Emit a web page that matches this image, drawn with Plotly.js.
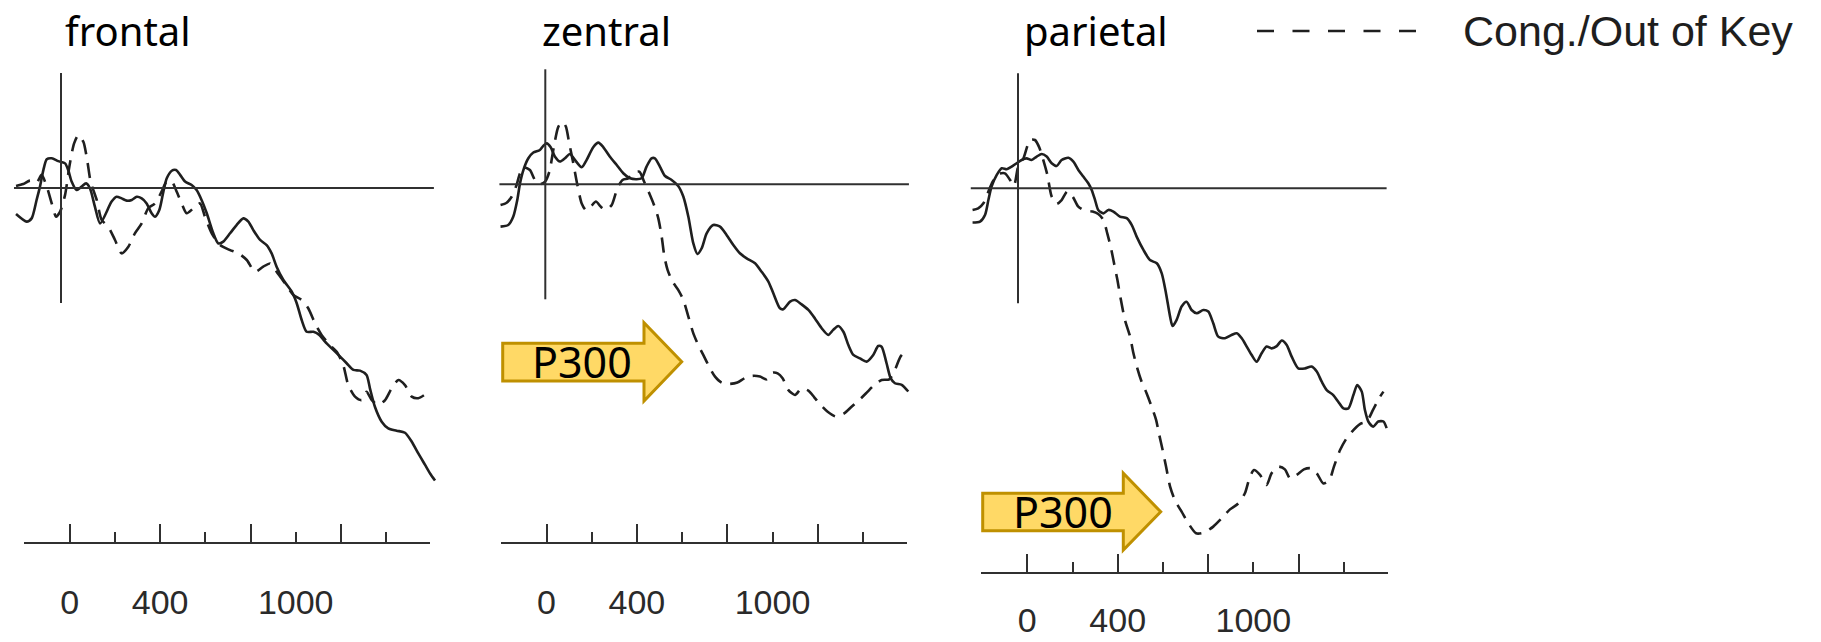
<!DOCTYPE html>
<html>
<head>
<meta charset="utf-8">
<script src="https://cdn.plot.ly/plotly-3.0.1.min.js"></script>
<style>html,body{margin:0;padding:0;background:#fff;}#chart{width:1821px;height:642px;}</style>
</head>
<body>
<div id="chart"></div>
<script>
// ---------------- DATA (time in ms, amplitude in µV, positive plotted downward) ----------------
const panelNames = ['frontal', 'zentral', 'parietal'];
const legendLabel = 'Cong./Out of Key';
const arrowLabel = 'P300';

const tickMajor = [0, 400, 800, 1200];
const tickMinor = [200, 600, 1000, 1400];
const tickLabelVals = [0, 400, 1000];
const tickLabelText = ['0', '400', '1000'];

// frontal
const frontalSolidT = [-199,-152,-130,-108,-93,-78,-63,-41,-12,18,32,47,69,91,111,128,150,173,224,246,268,291,313,335,357,379,401,416,435,453,468,490,509,527,549,578,600,622,645,674,696,718,748,777,807,829,851,881,910,932,954,984,1021,1043,1065,1087,1117,1143,1168,1205,1235,1264,1294,1323,1352,1367,1389,1419,1448,1485,1522,1552,1581,1611,1633,1655];
const frontalSolidV = [1.13,1.46,1.32,0.52,-0.06,-0.78,-1.25,-1.29,-1.17,-1.07,-0.78,-0.28,0.09,-0.06,-0.20,0.01,0.81,1.54,0.59,0.38,0.45,0.55,0.52,0.38,0.45,0.67,1.10,1.25,0.96,0.16,-0.42,-0.75,-0.78,-0.57,-0.28,-0.13,0.09,0.52,1.10,1.97,2.41,2.33,1.97,1.61,1.32,1.46,1.83,2.26,2.48,2.84,3.42,4.00,4.51,5.01,5.74,6.25,6.25,6.39,6.68,7.04,7.33,7.62,7.91,7.94,8.13,8.71,9.51,10.16,10.45,10.55,10.64,11.03,11.54,12.04,12.41,12.72];
const frontalDashT = [-199,-167,-137,-108,-86,-63,-41,-22,-4,18,37,58,77,99,117,131,158,180,209,239,268,298,327,357,386,416,445,468,490,512,534,556,586,615,637,667,704,748,785,822,858,895,925,954,991,1028,1065,1094,1124,1153,1190,1220,1249,1271,1301,1330,1352,1375,1404,1434,1463,1493,1522,1552,1581,1618];
const frontalDashV = [-0.09,-0.17,-0.32,-0.23,-0.57,-0.06,0.67,1.25,1.03,0.30,-0.93,-1.94,-2.30,-2.01,-1.14,-0.28,0.52,1.39,1.68,2.26,2.84,2.55,1.97,1.54,0.88,0.67,0.16,-0.28,-0.28,0.16,0.67,1.10,0.88,0.67,1.25,1.97,2.48,2.70,2.84,3.13,3.64,3.42,3.28,3.64,4.14,4.65,4.87,5.23,5.88,6.39,6.83,7.12,7.70,8.57,9.07,9.22,8.86,9.22,9.43,9.22,8.71,8.35,8.57,9.07,9.14,8.93];

// zentral
const zentralSolidT = [-198,-164,-142,-124,-112,-97,-75,-53,-24,-9,6,24,43,65,87,109,131,161,183,212,235,257,286,316,345,375,404,426,448,470,485,507,530,559,588,611,633,655,673,692,714,743,773,802,832,861,891,928,957,987,1009,1038,1053,1083,1105,1134,1164,1193,1223,1252,1274,1296,1319,1341,1363,1392,1422,1451,1473,1488,1510,1528,1547,1577,1606];
const zentralSolidV = [1.84,1.77,1.41,0.68,-0.04,-0.62,-1.13,-1.38,-1.49,-1.67,-1.78,-1.61,-1.20,-0.99,-1.13,-1.32,-1.06,-0.74,-1.06,-1.61,-1.81,-1.61,-1.20,-0.84,-0.48,-0.26,-0.22,-0.26,-0.77,-1.13,-1.13,-0.77,-0.36,-0.19,0.07,0.54,1.41,2.57,3.03,2.78,2.13,1.77,1.84,2.20,2.64,3.00,3.22,3.43,3.80,4.23,4.74,5.39,5.43,5.10,5.03,5.22,5.46,5.83,6.26,6.55,6.33,6.16,6.41,6.99,7.42,7.57,7.71,7.42,7.03,7.06,7.78,8.43,8.65,8.72,9.01];
const zentralDashT = [-198,-171,-149,-127,-112,-94,-68,-46,-24,-1,18,38,58,77,91,106,124,142,161,180,201,224,245,268,294,319,342,367,392,416,437,460,481,500,515,527,541,563,588,611,633,655,677,699,729,751,780,814,850,883,917,950,979,1006,1028,1050,1075,1105,1134,1164,1190,1218,1248,1286,1322,1355,1392,1422,1451,1488,1522,1547,1572,1606];
const zentralDashV = [0.90,0.80,0.54,0.03,-0.48,-0.74,-0.62,-0.19,-0.01,-0.12,-0.55,-1.64,-2.51,-2.72,-2.51,-1.78,-0.91,0.03,0.83,1.12,0.97,0.75,0.97,1.12,0.90,0.17,-0.19,-0.26,-0.51,-0.55,-0.12,0.39,0.90,1.48,2.28,3.14,3.72,4.23,4.59,5.03,5.75,6.48,6.99,7.42,8.00,8.36,8.62,8.68,8.62,8.43,8.33,8.36,8.48,8.19,8.22,8.43,8.94,9.16,8.87,8.97,9.26,9.59,9.88,10.10,9.96,9.67,9.35,9.06,8.77,8.51,8.48,8.07,7.49,7.13];

// parietal
const parietalSolidT = [-201,-168,-146,-131,-117,-94,-72,-50,-28,-6,16,38,60,83,105,127,149,171,193,223,245,267,289,311,326,341,355,378,400,422,451,481,503,525,555,584,614,636,655,673,684,702,724,746,768,791,820,842,864,886,916,945,968,990,1012,1034,1056,1078,1100,1122,1145,1167,1189,1211,1240,1270,1299,1322,1344,1366,1395,1417,1440,1462,1484,1501,1521,1535,1550,1572,1594,1617,1631];
const parietalSolidV = [1.49,1.45,1.16,0.51,-0.07,-0.58,-0.87,-0.83,-0.94,-1.09,-1.23,-1.30,-1.23,-1.38,-1.49,-1.38,-1.09,-0.97,-1.23,-1.33,-1.16,-0.80,-0.51,-0.22,0.07,0.51,0.94,1.09,0.94,1.01,1.23,1.30,1.59,2.10,2.68,3.12,3.26,3.70,4.57,5.58,5.99,5.72,5.14,4.93,5.29,5.43,5.29,5.36,5.87,6.45,6.52,6.38,6.30,6.52,6.88,7.25,7.54,7.17,6.88,6.96,6.86,6.62,6.81,7.32,7.83,7.83,7.75,7.97,8.41,8.77,8.99,9.28,9.57,9.57,8.99,8.55,8.84,9.64,10.14,10.36,10.14,10.14,10.43];
const parietalDashT = [-201,-176,-153,-131,-112,-87,-58,-35,-18,1,24,53,75,94,112,130,149,171,193,218,242,267,296,330,355,378,395,410,425,440,454,473,496,510,528,547,569,591,611,625,640,655,673,695,724,754,788,823,864,901,938,975,1004,1024,1044,1071,1100,1122,1152,1181,1204,1233,1265,1295,1322,1351,1378,1398,1425,1454,1484,1513,1543,1572,1602,1617];
const parietalDashV = [0.94,0.87,0.65,0.14,-0.29,-0.62,-0.65,-0.36,-0.10,-0.94,-1.30,-2.10,-2.10,-1.78,-1.23,-0.58,0.36,0.68,0.51,0.14,0.36,0.80,0.97,1.01,1.12,1.38,1.96,2.54,3.26,3.99,4.78,5.72,6.45,7.14,7.83,8.41,8.91,9.49,10.07,10.72,11.38,12.10,12.97,13.58,14.06,14.57,15.00,14.97,14.71,14.35,13.96,13.70,13.26,12.61,12.25,12.46,12.90,12.39,12.10,12.22,12.61,12.46,12.22,12.17,12.39,12.83,12.68,12.10,11.38,10.87,10.51,10.25,10.14,9.61,9.06,8.84];

// ---------------- LAYOUT HELPERS ----------------
const W = 1821, H = 642;
const PX_PER_MS = 0.226, PX_PER_UV = 23;
const fx = px => px / W;
const fy = py => 1 - py / H;

const INK = '#1f1f1f';
const AXIS_INK = '#303030';

const panels = [
  {name: panelNames[0], sT: frontalSolidT, sV: frontalSolidV, dT: frontalDashT, dV: frontalDashV,
   vx: 61, zy: 188, box: [5, 455], zeroSpan: [-208, 1650],
   tl: {l: 23.5, r: 430, zero: 69.7, y: 541.5, standoff: 30}, titleX: 62.7},
  {name: panelNames[1], sT: zentralSolidT, sV: zentralSolidV, dT: zentralDashT, dV: zentralDashV,
   vx: 545.3, zy: 184.3, box: [480, 930], zeroSpan: [-203, 1609],
   tl: {l: 501, r: 907, zero: 546.5, y: 541.5, standoff: 30}, titleX: 539.5},
  {name: panelNames[2], sT: parietalSolidT, sV: parietalSolidV, dT: parietalDashT, dV: parietalDashV,
   vx: 1018, zy: 188.3, box: [955, 1410], zeroSpan: [-209, 1631],
   tl: {l: 981, r: 1388, zero: 1027.3, y: 571.5, standoff: 18}, titleX: 1021.7}
];
const BOX_T = 50, BOX_B = 590;

const traces = [];
const layout = {
  width: W, height: H,
  margin: {l: 0, r: 0, t: 0, b: 0, pad: 0},
  paper_bgcolor: '#ffffff', plot_bgcolor: 'rgba(0,0,0,0)',
  showlegend: false,
  shapes: [], annotations: []
};

panels.forEach((p, i) => {
  const n = i + 1;
  const xa = n === 1 ? 'x' : 'x' + n;
  const ya = n === 1 ? 'y' : 'y' + n;
  const xk = n === 1 ? 'xaxis' : 'xaxis' + n;
  const yk = n === 1 ? 'yaxis' : 'yaxis' + n;
  layout[xk] = {
    domain: [fx(p.box[0]), fx(p.box[1])],
    range: [(p.box[0] - p.vx) / PX_PER_MS, (p.box[1] - p.vx) / PX_PER_MS],
    visible: false, fixedrange: true, anchor: ya
  };
  layout[yk] = {
    domain: [fy(BOX_B), fy(BOX_T)],
    range: [(BOX_B - p.zy) / PX_PER_UV, (BOX_T - p.zy) / PX_PER_UV],
    visible: false, fixedrange: true, anchor: xa
  };
  // curves
  traces.push({x: p.sT, y: p.sV, xaxis: xa, yaxis: ya, type: 'scatter', mode: 'lines',
    name: 'Cong./In Key', line: {color: INK, width: 2.6, shape: 'spline', smoothing: 0.7}, hoverinfo: 'x+y'});
  traces.push({x: p.dT, y: p.dV, xaxis: xa, yaxis: ya, type: 'scatter', mode: 'lines',
    name: legendLabel, line: {color: INK, width: 2.6, dash: '15px,9px', shape: 'spline', smoothing: 0.7}, hoverinfo: 'x+y'});
  // zero line and stimulus-onset line
  layout.shapes.push({type: 'line', xref: xa, yref: ya, x0: p.zeroSpan[0], x1: p.zeroSpan[1], y0: 0, y1: 0,
    line: {color: AXIS_INK, width: 2}});
  layout.shapes.push({type: 'line', xref: xa, yref: ya, x0: 0, x1: 0, y0: -5, y1: 5,
    line: {color: AXIS_INK, width: 2}});
  // panel title
  layout.annotations.push({text: p.name, xref: 'paper', yref: 'paper', x: fx(p.titleX), y: fy(31),
    xanchor: 'left', yanchor: 'middle', showarrow: false,
    font: {family: 'Noto Sans, Open Sans, sans-serif', size: 40, color: '#000'}});
});

// time-scale axes (labels on x4..x6, tick marks on overlaying x7..x9)
layout.yaxis4 = {domain: [fy(541.5), fy(500)], range: [0, 1], visible: false, fixedrange: true, anchor: 'x4'};
layout.yaxis5 = {domain: [fy(571.5), fy(530)], range: [0, 1], visible: false, fixedrange: true, anchor: 'x6'};
panels.forEach((p, i) => {
  const base = 4 + i, over = 7 + i;
  const yref = i < 2 ? 'y4' : 'y5';
  const range = [(p.tl.l - p.tl.zero) / PX_PER_MS, (p.tl.r - p.tl.zero) / PX_PER_MS];
  const dom = [fx(p.tl.l), fx(p.tl.r)];
  layout['xaxis' + base] = {
    domain: dom, range: range, anchor: yref, fixedrange: true,
    showline: true, linecolor: AXIS_INK, linewidth: 2,
    showgrid: false, zeroline: false,
    tickmode: 'array', tickvals: tickLabelVals, ticktext: tickLabelText,
    ticks: '', ticklabelstandoff: p.tl.standoff,
    tickfont: {family: 'Liberation Sans, Arial, sans-serif', size: 34, color: '#2a2a2a'}
  };
  layout['xaxis' + over] = {
    overlaying: 'x' + base, range: range, anchor: yref, fixedrange: true,
    showline: false, showgrid: false, zeroline: false, showticklabels: false,
    tickmode: 'array', tickvals: tickMajor, ticks: 'inside', ticklen: 18, tickwidth: 2, tickcolor: AXIS_INK,
    minor: {tickmode: 'array', tickvals: tickMinor, ticks: 'inside', ticklen: 10, tickwidth: 2, tickcolor: AXIS_INK}
  };
  traces.push({x: [0], y: [0], xaxis: 'x' + base, yaxis: yref, type: 'scatter', mode: 'markers',
    marker: {opacity: 0}, hoverinfo: 'skip', showlegend: false});
  traces.push({x: [0], y: [0], xaxis: 'x' + over, yaxis: yref, type: 'scatter', mode: 'markers',
    marker: {opacity: 0}, hoverinfo: 'skip', showlegend: false});
});

// legend (dashed sample + label)
layout.shapes.push({type: 'line', xref: 'paper', yref: 'paper', x0: fx(1257), x1: fx(1416), y0: fy(31), y1: fy(31),
  line: {color: INK, width: 2.6, dash: '17px,18.5px'}});
layout.annotations.push({text: legendLabel, xref: 'paper', yref: 'paper', x: fx(1461), y: fy(31),
  xanchor: 'left', yanchor: 'middle', showarrow: false,
  font: {family: 'Liberation Sans, Arial, sans-serif', size: 43, color: '#1e1e1e'}});

// P300 arrows
function arrowPath(a) {
  const pts = [[a.l, a.bt], [a.hb, a.bt], [a.hb, a.ht], [a.tip, a.cy], [a.hb, a.hbot], [a.hb, a.bb], [a.l, a.bb]];
  return 'M ' + pts.map(q => fx(q[0]).toFixed(5) + ',' + fy(q[1]).toFixed(5)).join(' L ') + ' Z';
}
const arrows = [
  {l: 502.7, hb: 644, bt: 343.3, bb: 381, ht: 322.7, hbot: 401, tip: 681.7, cy: 361.8, tx: 582},
  {l: 982.7, hb: 1123.3, bt: 493.3, bb: 530.7, ht: 473.3, hbot: 550, tip: 1160.7, cy: 511.8, tx: 1062.5}
];
arrows.forEach(a => {
  layout.shapes.push({type: 'path', xref: 'paper', yref: 'paper', path: arrowPath(a),
    fillcolor: '#FFD966', line: {color: '#BF9000', width: 3}, layer: 'above'});
  layout.annotations.push({text: arrowLabel, xref: 'paper', yref: 'paper', x: fx(a.tx), y: fy(a.cy),
    xanchor: 'center', yanchor: 'middle', showarrow: false,
    font: {family: 'Noto Sans, Open Sans, sans-serif', size: 43, color: '#000'}});
});

Plotly.newPlot('chart', traces, layout, {displayModeBar: false, staticPlot: true});
</script>
</body>
</html>
